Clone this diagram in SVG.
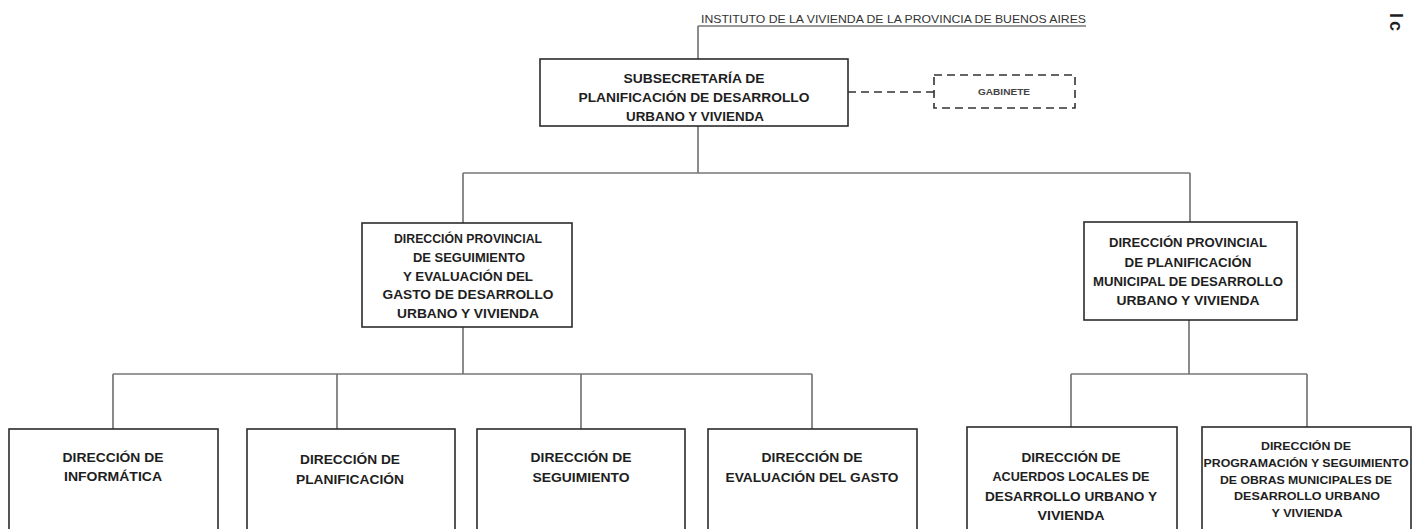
<svg xmlns="http://www.w3.org/2000/svg" width="1425" height="529" viewBox="0 0 1425 529">
<style>
.box{fill:#fff;stroke:#2b2b2b;stroke-width:1.6}
.dbox{fill:#fff;stroke:#333;stroke-width:1.6;stroke-dasharray:8 5}
.con{fill:none;stroke:#777;stroke-width:1.7}
.dcon{fill:none;stroke:#333;stroke-width:1.6;stroke-dasharray:8 5}
text{font-family:"Liberation Sans",Arial,sans-serif;fill:#1e1e1e;text-anchor:middle}
.t1{font-size:13.5px;font-weight:bold}
.t2{font-size:12.5px;font-weight:bold}
.t3{font-size:12px;font-weight:bold}
.t4{font-size:11px;font-weight:bold}
.hdr{font-size:11px;text-anchor:start;fill:#333}
.gab{font-size:8.5px;font-weight:bold;fill:#444}
</style>
<g id="connectors">
<line class="con" x1="698" y1="26" x2="1086" y2="26" style="stroke:#333;stroke-width:1.2"/>
<path class="con" d="M698,26V59"/>
<path class="con" d="M698,126V173M463,173H1190M463,173V223M1190,173V222"/>
<path class="con" d="M463,327V374M113,374H812M113,374V429M337,374V429M581,374V429M812,374V429"/>
<path class="con" d="M1189,320V374M1071,374H1307M1071,374V427M1307,374V427"/>
<path class="dcon" d="M848,92H934"/>
</g>
<g id="header">
<text class="hdr" x="701" y="23" textLength="385" lengthAdjust="spacingAndGlyphs">INSTITUTO DE LA VIVIENDA DE LA PROVINCIA DE BUENOS AIRES</text>
</g>
<g id="corner">
<text x="1390" y="13" transform="rotate(90 1390 13)" style="font-size:18px;font-weight:bold;text-anchor:start;letter-spacing:3px">Ic</text>
</g>
<g id="subsecretaria">
<rect class="box" x="540" y="59" width="308" height="67"/>
<text class="t1" x="694" y="83" textLength="141" lengthAdjust="spacingAndGlyphs">SUBSECRETARÍA DE</text>
<text class="t1" x="694" y="102" textLength="231" lengthAdjust="spacingAndGlyphs">PLANIFICACIÓN DE DESARROLLO</text>
<text class="t1" x="695" y="121" textLength="138" lengthAdjust="spacingAndGlyphs">URBANO Y VIVIENDA</text>
</g>
<g id="gabinete">
<rect class="dbox" x="934" y="75" width="141" height="33"/>
<text class="gab" x="1004" y="95" textLength="52" lengthAdjust="spacingAndGlyphs">GABINETE</text>
</g>
<g id="dp-seguimiento">
<rect class="box" x="362" y="223" width="210" height="104"/>
<text class="t2" x="468" y="243" textLength="148" lengthAdjust="spacingAndGlyphs">DIRECCIÓN PROVINCIAL</text>
<text class="t2" x="469" y="262" textLength="112" lengthAdjust="spacingAndGlyphs">DE SEGUIMIENTO</text>
<text class="t2" x="468" y="281" textLength="130" lengthAdjust="spacingAndGlyphs">Y EVALUACIÓN DEL</text>
<text class="t2" x="468" y="299" textLength="171" lengthAdjust="spacingAndGlyphs">GASTO DE DESARROLLO</text>
<text class="t2" x="468" y="318" textLength="142" lengthAdjust="spacingAndGlyphs">URBANO Y VIVIENDA</text>
</g>
<g id="dp-planificacion">
<rect class="box" x="1084" y="222" width="213" height="98"/>
<text class="t2" x="1188" y="247" textLength="158" lengthAdjust="spacingAndGlyphs">DIRECCIÓN PROVINCIAL</text>
<text class="t2" x="1188" y="267" textLength="127" lengthAdjust="spacingAndGlyphs">DE PLANIFICACIÓN</text>
<text class="t2" x="1188" y="286" textLength="190" lengthAdjust="spacingAndGlyphs">MUNICIPAL DE DESARROLLO</text>
<text class="t2" x="1188" y="305" textLength="143" lengthAdjust="spacingAndGlyphs">URBANO Y VIVIENDA</text>
</g>
<g id="d-informatica">
<rect class="box" x="9" y="429" width="209" height="110"/>
<text class="t3" x="113" y="462" textLength="101" lengthAdjust="spacingAndGlyphs">DIRECCIÓN DE</text>
<text class="t3" x="113" y="481" textLength="98" lengthAdjust="spacingAndGlyphs">INFORMÁTICA</text>
</g>
<g id="d-planificacion">
<rect class="box" x="247" y="429" width="208" height="110"/>
<text class="t3" x="350" y="464" textLength="100" lengthAdjust="spacingAndGlyphs">DIRECCIÓN DE</text>
<text class="t3" x="350" y="484" textLength="108" lengthAdjust="spacingAndGlyphs">PLANIFICACIÓN</text>
</g>
<g id="d-seguimiento">
<rect class="box" x="477" y="429" width="208" height="110"/>
<text class="t3" x="581" y="462" textLength="101" lengthAdjust="spacingAndGlyphs">DIRECCIÓN DE</text>
<text class="t3" x="581" y="482" textLength="97" lengthAdjust="spacingAndGlyphs">SEGUIMIENTO</text>
</g>
<g id="d-evaluacion">
<rect class="box" x="708" y="429" width="209" height="110"/>
<text class="t3" x="812" y="462" textLength="101" lengthAdjust="spacingAndGlyphs">DIRECCIÓN DE</text>
<text class="t3" x="812" y="482" textLength="173" lengthAdjust="spacingAndGlyphs">EVALUACIÓN DEL GASTO</text>
</g>
<g id="d-acuerdos">
<rect class="box" x="967" y="427" width="210" height="112"/>
<text class="t3" x="1071" y="462" textLength="99" lengthAdjust="spacingAndGlyphs">DIRECCIÓN DE</text>
<text class="t3" x="1071" y="481" textLength="157" lengthAdjust="spacingAndGlyphs">ACUERDOS LOCALES DE</text>
<text class="t3" x="1071" y="501" textLength="172" lengthAdjust="spacingAndGlyphs">DESARROLLO URBANO Y</text>
<text class="t3" x="1071" y="520" textLength="67" lengthAdjust="spacingAndGlyphs">VIVIENDA</text>
</g>
<g id="d-programacion">
<rect class="box" x="1202" y="427" width="209" height="112"/>
<text class="t4" x="1306" y="450" textLength="90" lengthAdjust="spacingAndGlyphs">DIRECCIÓN DE</text>
<text class="t4" x="1306" y="467" textLength="205" lengthAdjust="spacingAndGlyphs">PROGRAMACIÓN Y SEGUIMIENTO</text>
<text class="t4" x="1306" y="484" textLength="172" lengthAdjust="spacingAndGlyphs">DE OBRAS MUNICIPALES DE</text>
<text class="t4" x="1307" y="500" textLength="146" lengthAdjust="spacingAndGlyphs">DESARROLLO URBANO</text>
<text class="t4" x="1307" y="517" textLength="71" lengthAdjust="spacingAndGlyphs">Y VIVIENDA</text>
</g>
</svg>
